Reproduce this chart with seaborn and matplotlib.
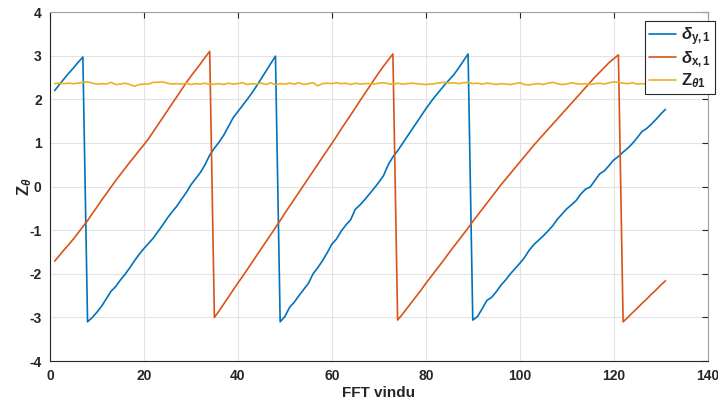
import numpy as np
import pandas as pd
import seaborn as sns
import matplotlib.pyplot as plt

# FFT window index
windows = list(range(1, 132))

delta_y1 = [2.20, 2.34, 2.47, 2.60, 2.72, 2.85, 2.97,
            -3.10, -3.00, -2.88, -2.74, -2.57, -2.40, -2.29, -2.14, -2.01, -1.86, -1.70,
            -1.55, -1.42, -1.30, -1.18, -1.03, -0.88, -0.72, -0.58, -0.45, -0.29, -0.14,
            0.04, 0.18, 0.32, 0.50, 0.72, 0.88, 1.02, 1.18, 1.38, 1.58, 1.72, 1.86, 2.00,
            2.15, 2.31, 2.48, 2.65, 2.82, 2.99,
            -3.10, -2.98, -2.77, -2.65, -2.50, -2.36, -2.22, -2.00, -1.86, -1.70, -1.52,
            -1.32, -1.20, -1.02, -0.88, -0.76, -0.52, -0.42, -0.30, -0.17, -0.04, 0.10,
            0.25, 0.50, 0.68, 0.82, 0.98, 1.14, 1.30, 1.46, 1.62, 1.78, 1.93, 2.07, 2.20,
            2.33, 2.45, 2.57, 2.72, 2.88, 3.04,
            -3.06, -2.98, -2.80, -2.61, -2.54, -2.41, -2.26, -2.14, -2.00, -1.88, -1.76,
            -1.63, -1.46, -1.33, -1.23, -1.13, -1.02, -0.90, -0.75, -0.63, -0.51, -0.42,
            -0.32, -0.17, -0.06, -0.01, 0.14, 0.29, 0.36, 0.48, 0.61, 0.69, 0.79, 0.88,
            0.99, 1.12, 1.26, 1.33, 1.43, 1.54, 1.66, 1.77]

delta_x1 = [-1.71, -1.58, -1.45, -1.33, -1.20, -1.06, -0.92, -0.78, -0.62, -0.47, -0.31,
            -0.16, -0.01, 0.14, 0.28, 0.42, 0.56, 0.69, 0.83, 0.96, 1.10, 1.26, 1.42,
            1.58, 1.74, 1.90, 2.06, 2.22, 2.38, 2.53, 2.67, 2.81, 2.96, 3.10,
            -3.00, -2.85, -2.69, -2.53, -2.37, -2.21, -2.06, -1.90, -1.74, -1.58, -1.42,
            -1.26, -1.10, -0.94, -0.78, -0.61, -0.45, -0.29, -0.13, 0.03, 0.19, 0.35,
            0.51, 0.67, 0.83, 0.99, 1.15, 1.32, 1.48, 1.64, 1.80, 1.97, 2.13, 2.29, 2.45,
            2.61, 2.76, 2.90, 3.04,
            -3.06, -2.93, -2.79, -2.65, -2.51, -2.37, -2.22, -2.08, -1.94, -1.80, -1.66,
            -1.51, -1.37, -1.23, -1.09, -0.95, -0.80, -0.66, -0.52, -0.38, -0.24, -0.10,
            0.04, 0.17, 0.30, 0.43, 0.56, 0.69, 0.82, 0.95, 1.07, 1.19, 1.31, 1.43, 1.55,
            1.67, 1.79, 1.91, 2.03, 2.15, 2.27, 2.39, 2.51, 2.62, 2.73, 2.84, 2.93, 3.02,
            -3.10, -3.00, -2.89, -2.79, -2.68, -2.58, -2.47, -2.37, -2.26, -2.16]

z_theta1 = [2.36, 2.37, 2.36, 2.37, 2.36, 2.37, 2.39, 2.40, 2.37, 2.35,
            2.36, 2.35, 2.39, 2.34, 2.35, 2.37, 2.34, 2.30, 2.34, 2.35,
            2.35, 2.39, 2.39, 2.40, 2.37, 2.35, 2.36, 2.35, 2.37, 2.34,
            2.36, 2.35, 2.37, 2.34, 2.35, 2.36, 2.34, 2.37, 2.35, 2.36,
            2.38, 2.34, 2.36, 2.35, 2.37, 2.34, 2.38, 2.33, 2.36, 2.35,
            2.37, 2.35, 2.38, 2.34, 2.36, 2.38, 2.31, 2.36, 2.37, 2.36,
            2.38, 2.36, 2.37, 2.34, 2.37, 2.35, 2.36, 2.36, 2.35, 2.37,
            2.38, 2.36, 2.34, 2.37, 2.35, 2.36, 2.37, 2.36, 2.35, 2.34,
            2.35, 2.36, 2.38, 2.39, 2.37, 2.38, 2.36, 2.38, 2.39, 2.36,
            2.37, 2.35, 2.37, 2.36, 2.34, 2.36, 2.35, 2.34, 2.36, 2.38,
            2.34, 2.33, 2.35, 2.36, 2.34, 2.37, 2.39, 2.36, 2.34, 2.35,
            2.38, 2.36, 2.35, 2.36, 2.34, 2.36, 2.37, 2.35, 2.38, 2.40,
            2.39, 2.37, 2.36, 2.38, 2.35, 2.36, 2.35, 2.37, 2.36, 2.35, 2.36]

labels = [r'$\delta_{\mathbf{y,1}}$', r'$\delta_{\mathbf{x,1}}$', r'Z$_{\theta\mathbf{1}}$']
colors = ['#0072BD', '#D95319', '#EDB120']

sns.set_style('white')
plt.rcParams['font.family'] = ['Liberation Sans', 'DejaVu Sans']
plt.rcParams['font.weight'] = 'bold'
plt.rcParams['axes.unicode_minus'] = False
plt.rcParams['mathtext.fontset'] = 'custom'
plt.rcParams['mathtext.rm'] = 'Liberation Sans'
plt.rcParams['mathtext.it'] = 'Liberation Sans:italic'
plt.rcParams['mathtext.bf'] = 'Liberation Sans:bold'

fig = plt.figure(figsize=(7.18, 4.03), dpi=100)
ax = fig.add_axes([0.0696, 0.104, 0.916, 0.866])

for series, lab, col in zip([delta_y1, delta_x1, z_theta1], labels, colors):
    df = pd.DataFrame({'window': windows, 'value': series})
    sns.lineplot(data=df, x='window', y='value', color=col, linewidth=1.2, label=lab, ax=ax)

ax.set_xlim(0, 140)
ax.set_ylim(-4, 4)
ax.set_xticks(range(0, 141, 20))
ax.set_yticks(range(-4, 5))
ax.grid(True, color='#e3e3e3', linewidth=0.8)
ax.set_axisbelow(True)
for side in ['left', 'bottom']:
    ax.spines[side].set_color('#262626')
for side in ['top', 'right']:
    ax.spines[side].set_color('#a0a0a0')
    ax.spines[side].set_visible(True)
ax.tick_params(direction='in', length=4, width=0.8, top=True, right=True,
               labelsize=10, colors='#262626', pad=6)
for t in ax.get_xticklabels() + ax.get_yticklabels():
    t.set_fontweight('bold')

ax.set_xlabel('FFT vindu', fontsize=11, fontweight='bold', color='#262626', labelpad=2)
ax.set_ylabel(r'Z$_{\theta}$', fontsize=12, fontweight='bold', color='#262626')
ax.yaxis.set_label_coords(-0.024, 0.5)

leg = ax.legend(loc='upper right', bbox_to_anchor=(1.011, 0.975), borderaxespad=0,
                fontsize=12, frameon=True, fancybox=False, edgecolor='#262626',
                framealpha=1, handlelength=1.6, handletextpad=0.3, borderpad=0.25,
                labelspacing=0.1)
leg.get_frame().set_linewidth(0.8)

fig.savefig('out.png', dpi=100)
